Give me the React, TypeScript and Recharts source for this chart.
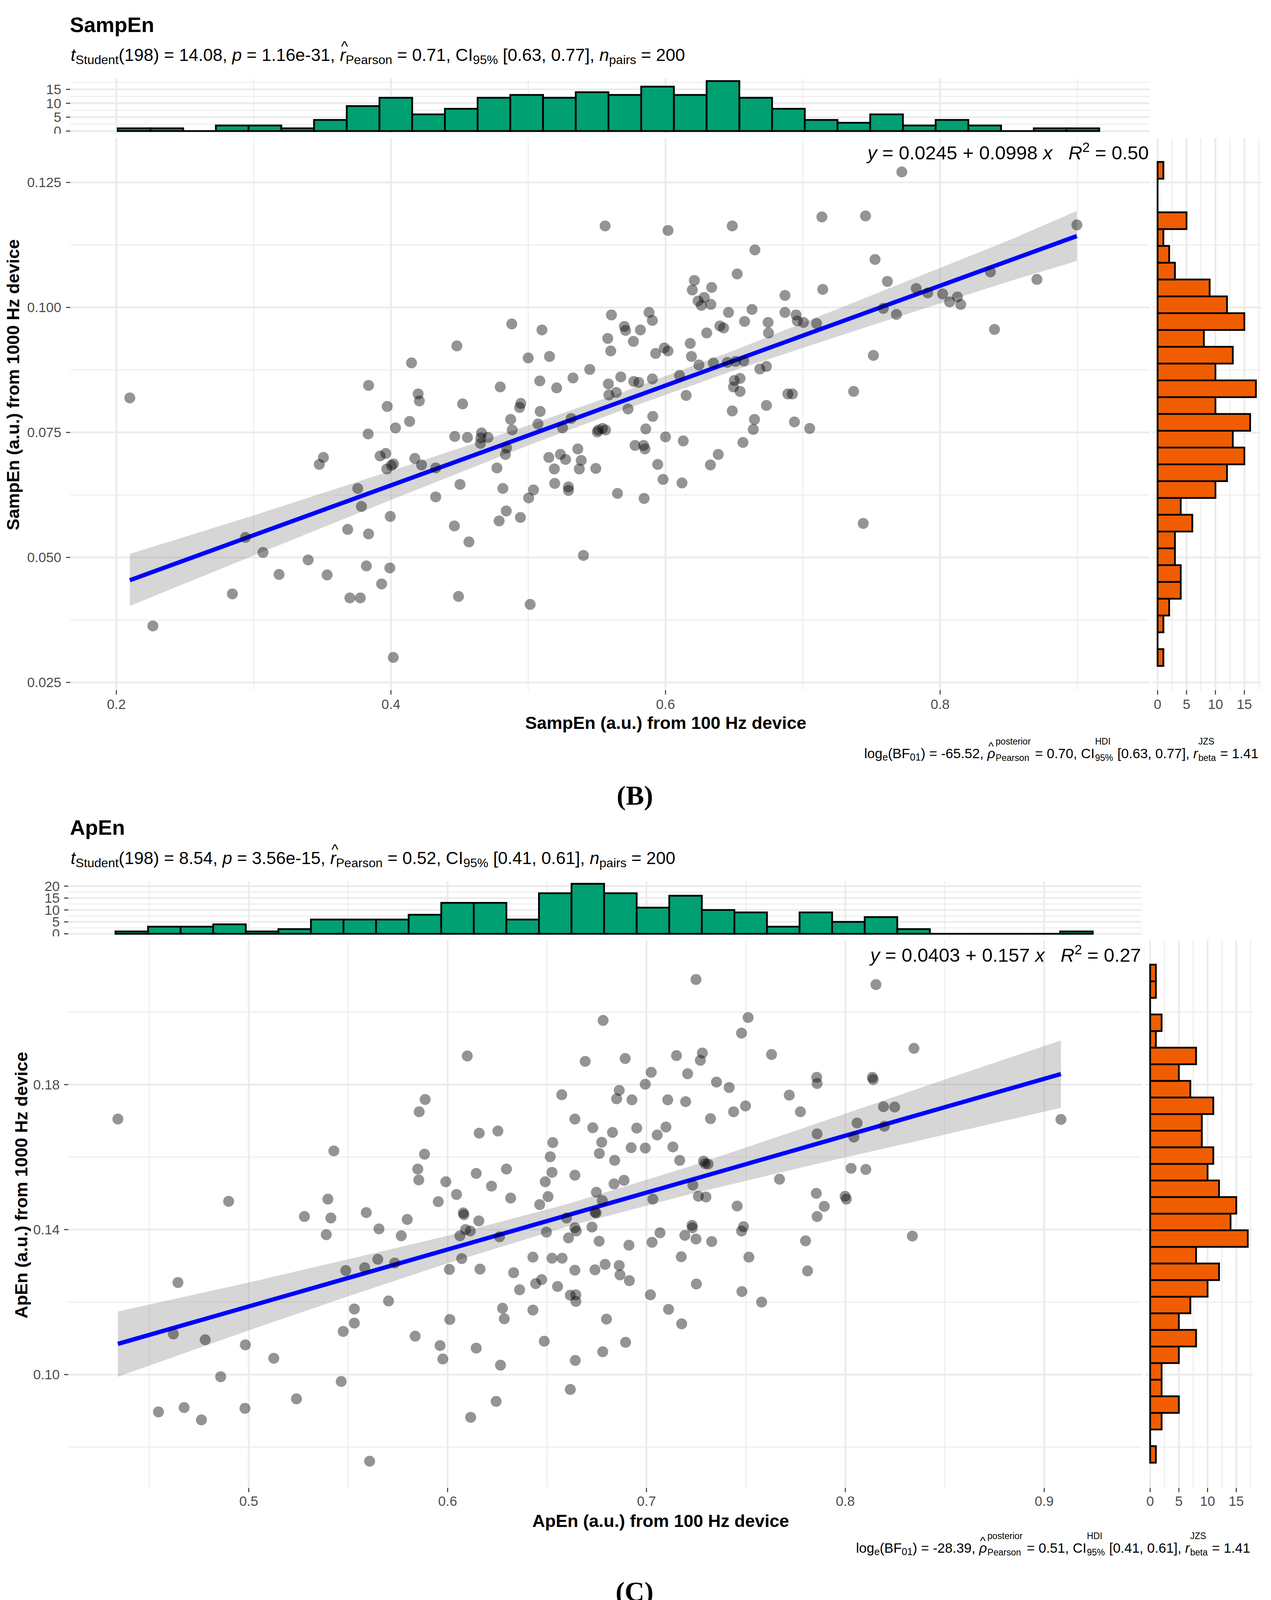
import React from 'react';
import { ComposedChart, Scatter, Line, Area, XAxis, YAxis, CartesianGrid, ReferenceArea, ReferenceLine } from 'recharts';

const FONT = '"Liberation Sans", Arial, Helvetica, sans-serif';
const GREEN = '#00A072';
const ORANGE = '#F05D00';

// ---- SampEn (panel B) ----
const sampEnX100 = [
  0.556, 0.2098, 0.488, 0.51, 0.448, 0.5, 0.5155, 0.415, 0.5606, 0.5579, 0.5601, 0.5448, 0.5674, 0.5326, 0.5084,
  0.4796, 0.5207, 0.3837, 0.4198, 0.4207, 0.4522, 0.3973, 0.5584, 0.5587, 0.5641, 0.4946, 0.4937, 0.5087, 0.4136,
  0.4033, 0.4872, 0.5071, 0.4883, 0.525, 0.5313, 0.3834, 0.4465, 0.4557, 0.466, 0.4655, 0.4707, 0.4652, 0.5503,
  0.5541, 0.5563, 0.5511, 0.3962, 0.3921, 0.3508, 0.3478, 0.4174, 0.4223, 0.4019, 0.4003, 0.397, 0.4842, 0.4834,
  0.4772, 0.5361, 0.515, 0.5234, 0.5272, 0.519, 0.5386, 0.5372, 0.5492, 0.4326, 0.3758, 0.4503, 0.4815, 0.5038,
  0.5003, 0.5193, 0.5293, 0.5293, 0.565, 0.3785, 0.4326, 0.3995, 0.484, 0.4788, 0.4943, 0.3685, 0.3837, 0.4462,
  0.4568, 0.294, 0.3068, 0.3397, 0.3185, 0.3535, 0.3821, 0.3992, 0.5402, 0.3932, 0.2845, 0.3701, 0.3777, 0.4492,
  0.5014, 0.2266, 0.4017,
  0.7721, 0.6018, 0.6486, 0.7139, 0.7457, 0.8996, 0.6651, 0.7526, 0.6522, 0.621, 0.6195, 0.6336, 0.7616, 0.7145,
  0.687, 0.6237, 0.6282, 0.6261, 0.633, 0.7826, 0.791, 0.8018, 0.8126, 0.8069, 0.815, 0.8366, 0.8705, 0.588, 0.5904,
  0.6459, 0.663, 0.687, 0.6951, 0.696, 0.7005, 0.71, 0.6747, 0.675, 0.6576, 0.6396, 0.6423, 0.63, 0.57, 0.5709,
  0.5817, 0.5766, 0.618, 0.6189, 0.5991, 0.6018, 0.5928, 0.7514, 0.7586, 0.7682, 0.8396, 0.6243, 0.6348, 0.645,
  0.651, 0.657, 0.6687, 0.6735, 0.6102, 0.5769, 0.5805, 0.5904, 0.615, 0.6501, 0.6543, 0.6495, 0.6543, 0.6891,
  0.6924, 0.737, 0.5727, 0.5907, 0.6486, 0.6735, 0.6648, 0.6639, 0.6939, 0.705, 0.5856, 0.6, 0.6129, 0.6564, 0.5778,
  0.5841, 0.585, 0.5943, 0.6327, 0.6384, 0.5982, 0.612, 0.5844, 0.744,
];
const sampEnY1000 = [
  0.1163, 0.0819, 0.0967, 0.0955, 0.0923, 0.0899, 0.0902, 0.0889, 0.0985, 0.0938, 0.0913, 0.0876, 0.0861, 0.0859, 0.0853,
  0.0841, 0.0839, 0.0844, 0.0827, 0.0813, 0.0807, 0.0802, 0.0847, 0.0825, 0.083, 0.0808, 0.08, 0.0792, 0.0772,
  0.0759, 0.0776, 0.0767, 0.0755, 0.0759, 0.0778, 0.0747, 0.0742, 0.074, 0.0749, 0.0739, 0.074, 0.0728, 0.0751,
  0.0758, 0.0755, 0.0755, 0.0708, 0.0703, 0.07, 0.0686, 0.0698, 0.0685, 0.0687, 0.0684, 0.0677, 0.0719, 0.0706,
  0.0679, 0.0717, 0.07, 0.0706, 0.0696, 0.0677, 0.0694, 0.0677, 0.0678, 0.0679, 0.0638, 0.0646, 0.0638, 0.0635,
  0.0619, 0.0648, 0.0641, 0.0634, 0.0628, 0.0602, 0.0621, 0.0582, 0.0593, 0.0573, 0.058, 0.0556, 0.0547, 0.0563,
  0.0531, 0.054, 0.051, 0.0495, 0.0466, 0.0465, 0.0483, 0.0479, 0.0504, 0.0447, 0.0427, 0.0419, 0.0419, 0.0422,
  0.0406, 0.0363, 0.03,
  0.1271, 0.1154, 0.1163, 0.1181, 0.1183, 0.1165, 0.1115, 0.1096, 0.1067, 0.1054, 0.1035, 0.104, 0.1052, 0.1036,
  0.1024, 0.1013, 0.102, 0.1004, 0.1006, 0.1038, 0.1029, 0.1027, 0.1021, 0.1011, 0.1006, 0.1071, 0.1056, 0.099, 0.0974,
  0.099, 0.0996, 0.099, 0.0985, 0.0973, 0.097, 0.0968, 0.097, 0.0949, 0.0972, 0.0963, 0.0959, 0.0949, 0.0962, 0.0954,
  0.0955, 0.0932, 0.0928, 0.0902, 0.0919, 0.0913, 0.0908, 0.0904, 0.0998, 0.0986, 0.0956, 0.0885, 0.0889, 0.089,
  0.0892, 0.0893, 0.0877, 0.0882, 0.0864, 0.0852, 0.085, 0.0857, 0.0824, 0.0854, 0.0858, 0.0841, 0.0832, 0.0827,
  0.0827, 0.0832, 0.0797, 0.0782, 0.0793, 0.0804, 0.0776, 0.0756, 0.0771, 0.0758, 0.0757, 0.0741, 0.0733, 0.073, 0.0724,
  0.0724, 0.0717, 0.0686, 0.0685, 0.0706, 0.0656, 0.0649, 0.0618, 0.0568,
];
const sampEnBandX = [0.2098, 0.3, 0.4, 0.5, 0.565, 0.65, 0.75, 0.85, 0.8996];
const sampEnBandLow = [0.0403, 0.0504, 0.0615, 0.0724, 0.0791, 0.0874, 0.0964, 0.1052, 0.1093];
const sampEnBandHigh = [0.0507, 0.0584, 0.0673, 0.0764, 0.0827, 0.0914, 0.1024, 0.1134, 0.1193];
const sampEnFit = { intercept: 0.0245, slope: 0.0998 };
const sampEnTopCounts = [1, 1, 0, 2, 2, 1, 4, 9, 12, 6, 8, 12, 13, 12, 14, 13, 16, 13, 18, 12, 8, 4, 3, 6, 2, 4, 2, 0, 1, 1];
const sampEnTopBins = { start: 0.201, width: 0.02383 };
const sampEnRightCounts = [1, 0, 1, 2, 4, 4, 3, 3, 6, 4, 10, 12, 15, 13, 16, 10, 17, 10, 13, 8, 15, 12, 9, 3, 2, 1, 5, 0, 0, 1];
const sampEnRightBins = { start: 0.0283, width: 0.00336 };
const sampEnXTicks = [0.2, 0.4, 0.6, 0.8];
const sampEnXMinor = [0.3, 0.5, 0.7, 0.9];
const sampEnYTicks = [0.025, 0.05, 0.075, 0.1, 0.125];
const sampEnYMinor = [0.0375, 0.0625, 0.0875, 0.1125];

// ---- ApEn (panel C) ----
const apEnX100 = [
  0.4342, 0.6099, 0.6782, 0.6692, 0.6893, 0.6994, 0.6863, 0.685, 0.6927, 0.6574, 0.5887, 0.5857, 0.664, 0.673, 0.6829,
  0.6951, 0.6775, 0.6763, 0.6923, 0.6994, 0.6529, 0.6516, 0.6159, 0.6253, 0.5428, 0.5884, 0.585, 0.5855, 0.6296,
  0.6144, 0.5991, 0.6045, 0.6221, 0.6525, 0.664, 0.684, 0.6837, 0.6887, 0.6491, 0.6505, 0.6463, 0.6317, 0.6748,
  0.6778, 0.5953, 0.4899, 0.5398, 0.5591, 0.6079, 0.6082, 0.528, 0.5413, 0.6157, 0.5797, 0.6598, 0.6741, 0.6747,
  0.5655, 0.539, 0.5767, 0.609, 0.6114, 0.6062, 0.6261, 0.6497, 0.664, 0.6647, 0.6608, 0.6726, 0.6762, 0.6912,
  0.6429, 0.6525, 0.6576, 0.6071, 0.5649, 0.5734, 0.5583, 0.5488, 0.6009, 0.6163, 0.6332, 0.6473, 0.6443, 0.6553,
  0.6362, 0.664, 0.6741, 0.6792, 0.6863, 0.6867, 0.6914, 0.4644, 0.6617, 0.6645, 0.6645, 0.5703, 0.5531, 0.5531,
  0.5475, 0.6276, 0.6285, 0.6429, 0.6011, 0.6799, 0.4621, 0.4781, 0.4983, 0.5837, 0.5962, 0.5976, 0.6144, 0.6486,
  0.6895, 0.678, 0.6642, 0.6266, 0.5126, 0.4859, 0.5465, 0.6617, 0.6244, 0.524, 0.4981, 0.4546, 0.4675, 0.4762,
  0.6116, 0.5608,
  0.7249, 0.8154, 0.7511, 0.7478, 0.7151, 0.7281, 0.7271, 0.7629, 0.8345, 0.7024, 0.7207, 0.7352, 0.7416, 0.7856,
  0.7858, 0.8136, 0.814, 0.7107, 0.7197, 0.7498, 0.7438, 0.7322, 0.7718, 0.7774, 0.8192, 0.8248, 0.9084, 0.7098,
  0.7054, 0.7133, 0.7858, 0.8059, 0.8043, 0.8196, 0.7167, 0.7287, 0.7295, 0.731, 0.8029, 0.8103, 0.7669, 0.7233,
  0.7032, 0.7261, 0.7299, 0.7456, 0.7854, 0.7999, 0.8005, 0.7894, 0.7858, 0.7229, 0.7231, 0.7488, 0.7478, 0.7068,
  0.7193, 0.7249, 0.7028, 0.7328, 0.78, 0.8337, 0.7175, 0.7515, 0.781, 0.7251, 0.702, 0.748, 0.7579, 0.7111, 0.7177,
];
const apEnY1000 = [
  0.1705, 0.1879, 0.1977, 0.1864, 0.1872, 0.1801, 0.1784, 0.1761, 0.1758, 0.1772, 0.1759, 0.1725, 0.1705, 0.1681, 0.1668,
  0.168, 0.1641, 0.161, 0.1626, 0.1625, 0.164, 0.1601, 0.1666, 0.1672, 0.1617, 0.1608, 0.1567, 0.1537, 0.1567,
  0.1555, 0.1532, 0.1497, 0.152, 0.1558, 0.155, 0.1591, 0.1526, 0.1536, 0.1532, 0.1491, 0.1469, 0.1487, 0.1503,
  0.148, 0.1477, 0.1478, 0.1484, 0.1447, 0.1446, 0.1441, 0.1436, 0.1432, 0.1424, 0.1428, 0.1432, 0.1448, 0.1446,
  0.1402, 0.1386, 0.1383, 0.14, 0.1396, 0.1383, 0.138, 0.1393, 0.1405, 0.1396, 0.1377, 0.1407, 0.1368, 0.1357,
  0.1324, 0.1321, 0.1321, 0.132, 0.1318, 0.1308, 0.1295, 0.1287, 0.129, 0.1291, 0.1281, 0.1262, 0.1251, 0.1243,
  0.1234, 0.1288, 0.1289, 0.1304, 0.1301, 0.1275, 0.1259, 0.1254, 0.1219, 0.122, 0.1202, 0.1203, 0.1181, 0.1142,
  0.1119, 0.1183, 0.1154, 0.1178, 0.1152, 0.1153, 0.1112, 0.1096, 0.1082, 0.1106, 0.108, 0.1043, 0.1073, 0.1092,
  0.1089, 0.1063, 0.1039, 0.1026, 0.1045, 0.0994, 0.0981, 0.0959, 0.0926, 0.0933, 0.0907, 0.0897, 0.0909, 0.0875,
  0.0882, 0.0761,
  0.209, 0.2076, 0.1985, 0.1942, 0.188, 0.1887, 0.1867, 0.1883, 0.19, 0.1834, 0.183, 0.1807, 0.1792, 0.182,
  0.1803, 0.182, 0.1814, 0.1758, 0.1753, 0.1741, 0.1725, 0.1706, 0.1771, 0.1725, 0.1739, 0.1738, 0.1704, 0.1683,
  0.1661, 0.1628, 0.1664, 0.1694, 0.1655, 0.1685, 0.1591, 0.1589, 0.1582, 0.1581, 0.1569, 0.1566, 0.1539, 0.1523,
  0.1484, 0.1492, 0.149, 0.1465, 0.15, 0.1492, 0.1484, 0.1464, 0.1436, 0.1412, 0.1405, 0.1408, 0.1396, 0.1391,
  0.1384, 0.1374, 0.1365, 0.1367, 0.1369, 0.1382, 0.1325, 0.1324, 0.1286, 0.125, 0.122, 0.1229, 0.12, 0.118, 0.114,
];
const apEnBandX = [0.4342, 0.5, 0.55, 0.6, 0.66, 0.72, 0.78, 0.85, 0.9084];
const apEnBandLow = [0.0994, 0.1122, 0.1216, 0.1307, 0.1408, 0.1495, 0.1574, 0.1662, 0.1736];
const apEnBandHigh = [0.1174, 0.1254, 0.1318, 0.1383, 0.147, 0.1571, 0.1682, 0.1814, 0.1922];
const apEnFit = { intercept: 0.0403, slope: 0.157 };
const apEnTopCounts = [1, 3, 3, 4, 1, 2, 6, 6, 6, 8, 13, 13, 6, 17, 21, 17, 11, 16, 10, 9, 3, 9, 5, 7, 2, 0, 0, 0, 0, 1];
const apEnTopBins = { start: 0.433, width: 0.01638 };
const apEnRightCounts = [1, 0, 2, 5, 2, 2, 5, 8, 5, 7, 10, 12, 8, 17, 14, 15, 12, 10, 11, 9, 9, 11, 7, 5, 8, 1, 2, 0, 1, 1];
const apEnRightBins = { start: 0.0757, width: 0.00458 };
const apEnXTicks = [0.5, 0.6, 0.7, 0.8, 0.9];
const apEnXMinor = [0.45, 0.55, 0.65, 0.75, 0.85];
const apEnYTicks = [0.1, 0.14, 0.18];
const apEnYMinor = [0.08, 0.12, 0.16, 0.2];

const tickStyle = { fontSize: 35, fill: '#4D4D4D', fontFamily: FONT };
const tickLine = { stroke: '#333333', strokeWidth: 2.5 };
const GRID = '#EBEBEB';

function makeBins(start: number, width: number, counts: number[]) {
  return counts.map((n, i) => ({ lo: start + i * width, hi: start + (i + 1) * width, n }));
}

type PanelProps = {
  xs: number[];
  ys: number[];
  bandX: number[];
  bandLow: number[];
  bandHigh: number[];
  fit: { intercept: number; slope: number };
  topCounts: number[];
  topBins: { start: number; width: number };
  rightCounts: number[];
  rightBins: { start: number; width: number };
  xTicks: number[];
  xMinor: number[];
  yTicks: number[];
  yMinor: number[];
  yFmt: (v: number) => string;
  histTicks: number[];
  histMinor: number[];
  geo: {
    left: number; right: number; top: number; bottom: number;
    histTop: number; histBottom: number; rLeft: number; rRight: number;
    xDomain: [number, number]; yDomain: [number, number];
    histDomain: [number, number]; rDomain: [number, number];
    xTickMargin: number; yTickMargin: number;
  };
};

function Panel(p: PanelProps) {
  const g = p.geo;
  const pts = p.xs.map((x, i) => ({ x, y: p.ys[i] }));
  const band = p.bandX.map((x, i) => ({
    x,
    band: [p.bandLow[i], p.bandHigh[i]],
    fit: p.fit.intercept + p.fit.slope * x,
  }));
  const topAll = makeBins(p.topBins.start, p.topBins.width, p.topCounts);
  const rightAll = makeBins(p.rightBins.start, p.rightBins.width, p.rightCounts);
  const plotH = g.bottom - g.top;
  const rTicks = [0, 5, 10, 15];
  const rMinor = [2.5, 7.5, 12.5, 17.5];

  return (
    <>
      {/* top marginal histogram */}
      <div style={{ position: 'absolute', left: 0, top: g.histTop }}>
        <ComposedChart width={g.right} height={g.histBottom - g.histTop} data={topAll} margin={{ top: 0, right: 0, bottom: 0, left: 0 }}>
          <CartesianGrid stroke={GRID} strokeWidth={2.3} horizontalValues={p.histMinor} verticalValues={p.xMinor} />
          <CartesianGrid stroke={GRID} strokeWidth={4.6} horizontalValues={p.histTicks} verticalValues={p.xTicks} />
          <XAxis type="number" dataKey="lo" domain={g.xDomain} allowDataOverflow hide />
          <YAxis type="number" domain={g.histDomain} allowDataOverflow ticks={p.histTicks} width={g.left}
            tick={tickStyle} tickLine={tickLine} tickSize={11} tickMargin={g.yTickMargin} axisLine={false} interval={0} />
          {topAll.map((b, i) =>
            b.n > 0 ? (
              <ReferenceArea key={i} x1={b.lo} x2={b.hi} y1={0} y2={b.n} fill={GREEN} fillOpacity={1} stroke="#000" strokeWidth={4.5} ifOverflow="visible" />
            ) : (
              <ReferenceLine key={i} segment={[{ x: b.lo, y: 0 }, { x: b.hi, y: 0 }]} stroke="#000" strokeWidth={4.5} ifOverflow="visible" />
            ),
          )}
        </ComposedChart>
      </div>

      {/* main scatter */}
      <div style={{ position: 'absolute', left: 0, top: g.top }}>
        <ComposedChart width={g.right} height={plotH + 80} data={band} margin={{ top: 0, right: 0, bottom: 0, left: 0 }}>
          <CartesianGrid stroke={GRID} strokeWidth={2.3} horizontalValues={p.yMinor} verticalValues={p.xMinor} />
          <CartesianGrid stroke={GRID} strokeWidth={4.6} horizontalValues={p.yTicks} verticalValues={p.xTicks} />
          <XAxis type="number" dataKey="x" domain={g.xDomain} allowDataOverflow ticks={p.xTicks} height={80}
            tick={tickStyle} tickLine={tickLine} tickSize={11} tickMargin={g.xTickMargin} axisLine={false} interval={0} />
          <YAxis type="number" dataKey="y" domain={g.yDomain} allowDataOverflow ticks={p.yTicks} width={g.left}
            tickFormatter={p.yFmt} tick={tickStyle} tickLine={tickLine} tickSize={11} tickMargin={g.yTickMargin} axisLine={false} interval={0} />
          <Scatter
            data={pts}
            isAnimationActive={false}
            shape={(s: any) => <circle cx={s.cx} cy={s.cy} r={14} fill="#000" fillOpacity={0.42} />}
          />
          <Area type="linear" dataKey="band" stroke="none" fill="#999999" fillOpacity={0.4} isAnimationActive={false} />
          <Line type="linear" dataKey="fit" stroke="#0000FF" strokeWidth={11} dot={false} isAnimationActive={false} />
        </ComposedChart>
      </div>

      {/* right marginal histogram */}
      <div style={{ position: 'absolute', left: g.rLeft, top: g.top }}>
        <ComposedChart width={g.rRight - g.rLeft} height={plotH + 80} data={rightAll} margin={{ top: 0, right: 0, bottom: 0, left: 0 }}>
          <CartesianGrid stroke={GRID} strokeWidth={2.3} horizontalValues={p.yMinor} verticalValues={rMinor} />
          <CartesianGrid stroke={GRID} strokeWidth={4.6} horizontalValues={p.yTicks} verticalValues={rTicks} />
          <XAxis type="number" dataKey="n" domain={g.rDomain} allowDataOverflow ticks={rTicks} height={80}
            tick={tickStyle} tickLine={tickLine} tickSize={11} tickMargin={g.xTickMargin} axisLine={false} interval={0} />
          <YAxis type="number" dataKey="lo" domain={g.yDomain} allowDataOverflow hide />
          {rightAll.map((b, i) =>
            b.n > 0 ? (
              <ReferenceArea key={i} x1={0} x2={b.n} y1={b.lo} y2={b.hi} fill={ORANGE} fillOpacity={1} stroke="#000" strokeWidth={4.5} ifOverflow="visible" />
            ) : (
              <ReferenceLine key={i} segment={[{ x: 0, y: b.lo }, { x: 0, y: b.hi }]} stroke="#000" strokeWidth={4.5} ifOverflow="visible" />
            ),
          )}
        </ComposedChart>
      </div>
    </>
  );
}

const Sub = ({ children }: { children: React.ReactNode }) => (
  <span style={{ fontSize: '0.72em', verticalAlign: '-0.26em' }}>{children}</span>
);

const Hat = ({ children }: { children: React.ReactNode }) => (
  <span style={{ position: 'relative', display: 'inline-block' }}>
    {children}
    <span style={{ position: 'absolute', left: '0.08em', top: '-0.5em', fontStyle: 'normal', fontSize: '0.85em' }}>^</span>
  </span>
);

// superscript stacked over a subscript
const Stack = ({ sup, sub }: { sup: string; sub: string }) => (
  <span style={{ display: 'inline-flex', flexDirection: 'column', fontSize: '0.66em', lineHeight: 1.8, verticalAlign: '1.5em', margin: '0 0.05em' }}>
    <span>{sup}</span>
    <span>{sub}</span>
  </span>
);

function Subtitle({ top, t, p, r, ci, n }: { top: number; t: string; p: string; r: string; ci: string; n: string }) {
  return (
    <div style={{ position: 'absolute', left: 181, top, fontSize: 44.5, lineHeight: 1, whiteSpace: 'nowrap', fontFamily: FONT }}>
      <i>t</i><Sub>Student</Sub>(198) = {t}, <i>p</i> = {p}, <Hat><i>r</i></Hat><Sub>Pearson</Sub> = {r}, CI<Sub>95%</Sub> {ci}, <i>n</i><Sub>pairs</Sub> = {n}
    </div>
  );
}

function Caption({ top, right, bf, rho, ci }: { top: number; right: number; bf: string; rho: string; ci: string }) {
  return (
    <div style={{ position: 'absolute', right, top, fontSize: 35, lineHeight: 1, whiteSpace: 'nowrap', fontFamily: FONT }}>
      log<Sub>e</Sub>(BF<Sub>01</Sub>) = {bf}, <Hat><i>ρ</i></Hat><Stack sup="posterior" sub="Pearson" /> = {rho}, CI<Stack sup="HDI" sub="95%" /> {ci}, <i>r</i><Stack sup="JZS" sub="beta" /> = 1.41
    </div>
  );
}

function Equation({ top, right, a, b, r2 }: { top: number; right: number; a: string; b: string; r2: string }) {
  return (
    <div style={{ position: 'absolute', right, top, fontSize: 49, lineHeight: 1, whiteSpace: 'pre', fontFamily: FONT }}>
      <i>y</i> = {a} + {b} <i>x</i>{'   '}<i>R</i><span style={{ fontSize: '0.7em', verticalAlign: '0.55em' }}>2</span> = {r2}
    </div>
  );
}

const titleStyle: React.CSSProperties = { position: 'absolute', fontSize: 54, fontWeight: 700, lineHeight: 1, fontFamily: FONT, whiteSpace: 'nowrap' };
const axisTitle: React.CSSProperties = { position: 'absolute', fontSize: 45, fontWeight: 700, lineHeight: 1, fontFamily: FONT, whiteSpace: 'nowrap' };
const panelLabel: React.CSSProperties = {
  position: 'absolute', transform: 'translate(-50%, -50%)', fontFamily: '"Liberation Serif", "Times New Roman", serif',
  fontWeight: 700, fontSize: 70, lineHeight: 1,
};

export default function App() {
  return (
    <div style={{ position: 'absolute', left: 0, top: 0, width: 3255, height: 4138, background: '#fff', overflow: 'hidden' }}>
      {/* Panel B */}
      <div style={{ ...titleStyle, left: 179, top: 36 }}>SampEn</div>
      <Subtitle top={119} t="14.08" p="1.16e-31" r="0.71" ci="[0.63, 0.77]" n="200" />
      <Panel
        xs={sampEnX100} ys={sampEnY1000}
        bandX={sampEnBandX} bandLow={sampEnBandLow} bandHigh={sampEnBandHigh} fit={sampEnFit}
        topCounts={sampEnTopCounts} topBins={sampEnTopBins}
        rightCounts={sampEnRightCounts} rightBins={sampEnRightBins}
        xTicks={sampEnXTicks} xMinor={sampEnXMinor} yTicks={sampEnYTicks} yMinor={sampEnYMinor}
        yFmt={(v) => v.toFixed(3)}
        histTicks={[0, 5, 10, 15]} histMinor={[2.5, 7.5, 12.5, 17.5]}
        geo={{
          left: 180, right: 2944, top: 353, bottom: 1767, histTop: 201, histBottom: 342, rLeft: 2952, rRight: 3229,
          xDomain: [0.16644, 0.95256], yDomain: [0.02344, 0.13391], histDomain: [-0.9, 18.9], rDomain: [-0.85, 17.85],
          xTickMargin: 12, yTickMargin: 12,
        }}
      />
      <Equation top={360} right={313} a="0.0245" b="0.0998" r2="0.50" />
      <div style={{ ...axisTitle, left: 1705, top: 1850, transform: 'translate(-50%, -50%)' }}>SampEn (a.u.) from 100 Hz device</div>
      <div style={{ ...axisTitle, left: 33, top: 985, transform: 'translate(-50%, -50%) rotate(-90deg)' }}>SampEn (a.u.) from 1000 Hz device</div>
      <Caption top={1878} right={32} bf="-65.52" rho="0.70" ci="[0.63, 0.77]" />
      <div style={{ ...panelLabel, left: 1626, top: 2037 }}>(B)</div>

      {/* Panel C */}
      <div style={{ ...titleStyle, left: 179, top: 2091 }}>ApEn</div>
      <Subtitle top={2175} t="8.54" p="3.56e-15" r="0.52" ci="[0.41, 0.61]" n="200" />
      <Panel
        xs={apEnX100} ys={apEnY1000}
        bandX={apEnBandX} bandLow={apEnBandLow} bandHigh={apEnBandHigh} fit={apEnFit}
        topCounts={apEnTopCounts} topBins={apEnTopBins}
        rightCounts={apEnRightCounts} rightBins={apEnRightBins}
        xTicks={apEnXTicks} xMinor={apEnXMinor} yTicks={apEnYTicks} yMinor={apEnYMinor}
        yFmt={(v) => v.toFixed(2)}
        histTicks={[0, 5, 10, 15, 20]} histMinor={[2.5, 7.5, 12.5, 17.5]}
        geo={{
          left: 175, right: 2924, top: 2407, bottom: 3809, histTop: 2256, histBottom: 2397, rLeft: 2933, rRight: 3208,
          xDomain: [0.40929, 0.94905], yDomain: [0.06874, 0.21983], histDomain: [-1.05, 22.05], rDomain: [-0.85, 17.85],
          xTickMargin: 10, yTickMargin: 11,
        }}
      />
      <Equation top={2414} right={333} a="0.0403" b="0.157" r2="0.27" />
      <div style={{ ...axisTitle, left: 1692, top: 3893, transform: 'translate(-50%, -50%)' }}>ApEn (a.u.) from 100 Hz device</div>
      <div style={{ ...axisTitle, left: 54, top: 3034, transform: 'translate(-50%, -50%) rotate(-90deg)' }}>ApEn (a.u.) from 1000 Hz device</div>
      <Caption top={3912} right={53} bf="-28.39" rho="0.51" ci="[0.41, 0.61]" />
      <div style={{ ...panelLabel, left: 1625, top: 4075 }}>(C)</div>
    </div>
  );
}
